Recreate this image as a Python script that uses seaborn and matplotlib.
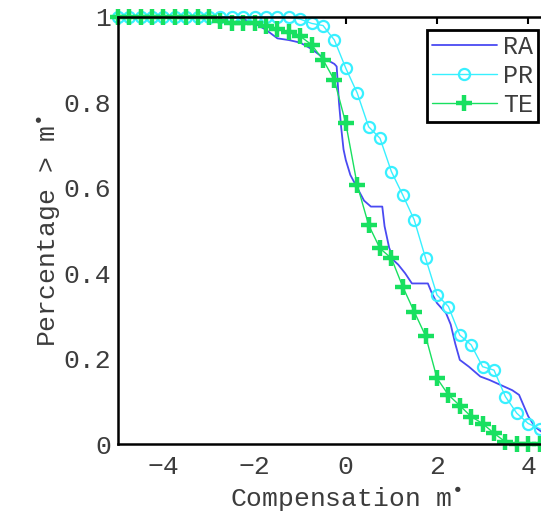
import numpy as np
import pandas as pd
import matplotlib
matplotlib.use("Agg")
import matplotlib.pyplot as plt
import seaborn as sns

# data
grid_x = [-5.0, -4.75, -4.5, -4.25, -4.0, -3.75, -3.5, -3.25, -3.0, -2.75,
          -2.5, -2.25, -2.0, -1.75, -1.5, -1.25, -1.0, -0.75, -0.5, -0.25,
          0.0, 0.25, 0.5, 0.75, 1.0, 1.25, 1.5, 1.75, 2.0, 2.25,
          2.5, 2.75, 3.0, 3.25, 3.5, 3.75, 4.0, 4.25, 4.5, 4.75, 5.0]

te_y = [1.0, 1.0, 1.0, 1.0, 1.0, 1.0, 1.0, 1.0, 1.0, 0.99,
        0.985, 0.985, 0.985, 0.98, 0.973, 0.965, 0.955, 0.935, 0.9, 0.852,
        0.751, 0.607, 0.513, 0.458, 0.435, 0.368, 0.31, 0.253, 0.154, 0.115,
        0.09, 0.064, 0.048, 0.025, 0.005, 0.0, 0.0, 0.0, 0.0, 0.0, 0.0]

pr_y = [1.0, 1.0, 1.0, 1.0, 1.0, 1.0, 1.0, 1.0, 1.0, 1.0,
        1.0, 1.0, 1.0, 1.0, 1.0, 1.0, 0.995, 0.985, 0.98, 0.946,
        0.88, 0.822, 0.743, 0.716, 0.638, 0.583, 0.525, 0.435, 0.349, 0.322,
        0.255, 0.232, 0.181, 0.173, 0.111, 0.072, 0.048, 0.036, 0.02, 0.01, 0.0]

ra_x = [-5.0, -2.5, -2.25, -2.0, -1.75, -1.5, -1.25, -1.0, -0.75, -0.5,
        -0.25, -0.2, -0.15, -0.1, -0.05, 0.0, 0.1, 0.2, 0.4, 0.55,
        0.8, 0.85, 0.95, 1.05, 1.15, 1.3, 1.45, 1.8, 1.9, 2.0,
        2.2, 2.3, 2.4, 2.5, 2.7, 2.95, 3.15, 3.4, 3.65, 3.8,
        3.9, 4.0, 4.15, 4.4, 4.75, 5.0]
ra_y = [1.0, 1.0, 0.995, 0.985, 0.97, 0.95, 0.946, 0.94, 0.925, 0.905,
        0.89, 0.884, 0.80, 0.74, 0.69, 0.665, 0.63, 0.61, 0.57, 0.556,
        0.556, 0.51, 0.46, 0.43, 0.42, 0.40, 0.376, 0.376, 0.35, 0.33,
        0.306, 0.28, 0.235, 0.197, 0.181, 0.158, 0.15, 0.138, 0.126, 0.115,
        0.09, 0.065, 0.04, 0.02, 0.01, 0.0]

x_ticks = [-4, -2, 0, 2, 4]
y_ticks = [0, 0.2, 0.4, 0.6, 0.8, 1]
y_tick_labels = ["0", "0.2", "0.4", "0.6", "0.8", "1"]

sns.set_style("white")
plt.rcParams['font.family'] = ['Liberation Mono', 'DejaVu Sans Mono']
plt.rcParams['mathtext.fontset'] = 'dejavusans'

fig = plt.figure(figsize=(5.41, 5.17), dpi=100)
# axes extends past the right edge, as in the cropped reference
ax = fig.add_axes([117.8 / 541, 73 / 517, 456 / 541, 427 / 517])

ra = pd.DataFrame({"x": ra_x, "y": ra_y})
pr = pd.DataFrame({"x": grid_x, "y": pr_y})
te = pd.DataFrame({"x": grid_x, "y": te_y})

blue = "#4a4af2"
cyan = "#38f0ff"
green = "#18e060"

sns.lineplot(data=ra, x="x", y="y", ax=ax, color=blue, linewidth=1.3,
             estimator=None, label="RA", clip_on=False)
sns.lineplot(data=pr, x="x", y="y", ax=ax, color=cyan, linewidth=1.0,
             marker="o", markersize=8, markerfacecolor="none",
             markeredgecolor=cyan, markeredgewidth=1.6,
             estimator=None, label="PR", clip_on=False)
sns.lineplot(data=te, x="x", y="y", ax=ax, color=green, linewidth=1.0,
             marker="+", markersize=12, markeredgewidth=3.2,
             markeredgecolor=green,
             estimator=None, label="TE", clip_on=False)

ax.set_xlim(-5, 5)
ax.set_ylim(0, 1)
ax.set_xticks(x_ticks)
ax.set_yticks(y_ticks)
ax.set_yticklabels(y_tick_labels)

tick_color = "#3c3c3c"
fs = 19
ax.tick_params(direction="in", top=True, right=True, length=5, width=1.5,
               color="black", labelsize=fs, labelcolor=tick_color)
ax.tick_params(axis="x", pad=8)
ax.tick_params(axis="y", pad=5)
for side in ax.spines.values():
    side.set_color("black")
    side.set_linewidth(1.8)

ax.set_xlabel(r"Compensation m$^{\bullet}$", fontsize=fs, color=tick_color,
              labelpad=4)
ax.set_ylabel(r"Percentage > m$^{\bullet}$", fontsize=fs, color=tick_color,
              labelpad=0)

leg = ax.legend(loc="upper right", bbox_to_anchor=(538 / 541, 1 - 30 / 517),
                bbox_transform=fig.transFigure, borderaxespad=0,
                fancybox=False, framealpha=1, edgecolor="black",
                fontsize=fs - 1, handlelength=2.6, handletextpad=0.25,
                borderpad=0.2, labelspacing=0.2)
leg.get_frame().set_linewidth(2.0)
for t in leg.get_texts():
    t.set_color(tick_color)

fig.savefig("out.png", dpi=100)
